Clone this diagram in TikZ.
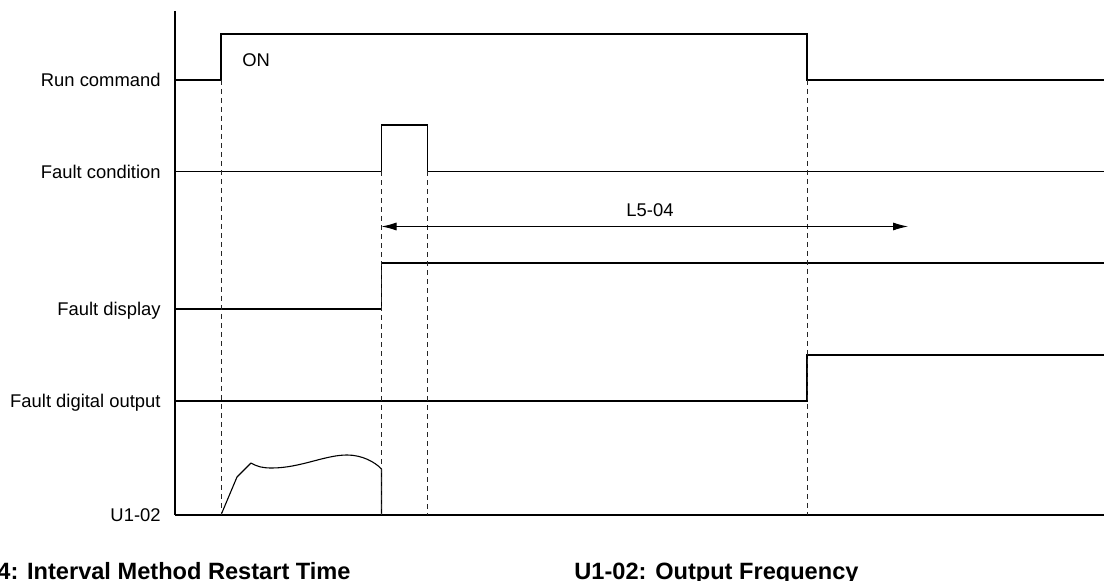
\documentclass[tikz,border=0pt]{standalone}
\usepackage{fontspec}
\setmainfont{Liberation Sans}
\usetikzlibrary{arrows.meta,positioning,calc}

\begin{document}
\begin{tikzpicture}[
    x=0.5pt, y=-0.5pt,
    signame/.style={anchor=base east, inner sep=0pt, font=\fontsize{9.2}{11}\selectfont},
    note/.style={inner sep=0pt, font=\fontsize{9.2}{11}\selectfont},
    figcaption/.style={anchor=base west, inner sep=0pt, font=\fontsize{11.8}{14}\selectfont\bfseries},
    wave/.style={draw=black, line width=0.55pt},
    guide/.style={draw=black!85, line width=0.45pt, dash pattern=on 2.5pt off 2pt},
    timespan/.style={{Latex[length=7.5pt,width=4pt]}-{Latex[length=7.5pt,width=4pt]}, line width=0.45pt}
]
\useasboundingbox (0,0) rectangle (1104,581);

% Signal names
\node[signame] (run) at (161,87) {Run command};
\node[signame] (fcond) at (161,179) {Fault condition};
\node[signame] (fdisp) at (161,316) {Fault display};
\node[signame] (fdo) at (161,408) {Fault digital output};
\node[signame] (freq) at (161,522) {U1-02};

% Time axis
\coordinate (axtop) at (175,11);
\coordinate (axbot) at (175,515);
\draw[line width=0.55pt] (axtop) -- (axbot);

% Waveforms
\draw[wave] (175,80) -- (221,80) -- (221,34) -- (807,34) -- (807,80) -- (1104,80);
\draw[wave] (175,171.5) -- (381.5,171.5) -- (381.5,125) -- (427.5,125) -- (427.5,171.5) -- (1104,171.5);
\draw[wave] (175,309) -- (381.5,309) -- (381.5,263) -- (1104,263);
\draw[wave] (175,401) -- (807,401) -- (807,355) -- (1104,355);
\draw[wave] (axbot) -- (1104,515);

% Output frequency
\draw[wave, line join=round] (221,515) -- (237,477) -- (251,463)
    .. controls (258,467) and (263,468) .. (272,468)
    .. controls (300,468) and (325,455) .. (347,455)
    .. controls (362,455) and (375,462) .. (381.5,469) -- (381.5,515);

% Timing guides
\draw[guide] (221,80) -- (221,515);
\draw[guide] (381.5,171.5) -- (381.5,515);
\draw[guide] (427.5,171.5) -- (427.5,515);
\draw[guide] (807,80) -- (807,515);

% Restart time
\coordinate (rs) at (381.5,226.5);
\coordinate (re) at (908,226.5);
\draw[timespan] (rs) -- (re);
\node[note, anchor=base] (l504) at (650,217) {L5-04};
\node[note, anchor=base west] (on) at (242,67) {ON};

% Captions
\node[figcaption] (cap1) at (-3,580) {4: Interval Method Restart Time};
\node[figcaption] (cap2) at (574,580) {U1-02: Output Frequency};

\end{tikzpicture}
\end{document}
